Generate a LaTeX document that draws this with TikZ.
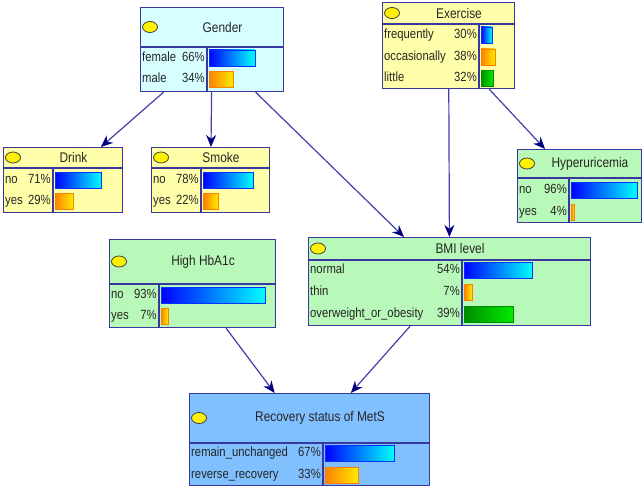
\documentclass[tikz,border=0pt]{standalone}
\usepackage{fontspec}
\setmainfont{Liberation Sans}
\newfontfamily\narrowfont{Liberation Sans}[FakeStretch=0.85]
\usepackage{tikz}
\usetikzlibrary{shapes,arrows.meta}

\definecolor{netline}{RGB}{56,56,160}
\definecolor{linkline}{RGB}{64,64,168}
\definecolor{linkhead}{RGB}{0,0,128}
\definecolor{bgyellow}{RGB}{255,255,170}
\definecolor{bgcyan}{RGB}{216,255,255}
\definecolor{bggreen}{RGB}{184,248,184}
\definecolor{bgblue}{RGB}{128,192,255}
\definecolor{orangeL}{RGB}{255,128,0}
\definecolor{orangeR}{RGB}{255,235,0}
\definecolor{greenL}{RGB}{0,140,0}
\definecolor{greenR}{RGB}{0,235,0}

\tikzstyle{netbox}=[rectangle, draw=netline, line width=1.2pt, inner sep=0pt, anchor=north west]
\tikzstyle{knob}=[draw=black!75, fill=yellow, line width=0.8pt]
\tikzstyle{nodetitle}=[font=\narrowfont\fontsize{14}{16}\selectfont, inner sep=0pt, text=black!85]
\tikzstyle{state}=[font=\narrowfont\fontsize{13.3}{15}\selectfont, inner sep=0pt, text height=9.5pt, text depth=3pt, text=black!85]
\tikzstyle{barb}=[draw=blue!80!cyan, line width=0.8pt, left color=blue, right color=cyan]
\tikzstyle{baro}=[draw=orangeL, line width=0.8pt, left color=orangeL, right color=orangeR]
\tikzstyle{barg}=[draw=greenL, line width=0.8pt, left color=greenL, right color=greenR]
\tikzstyle{link}=[draw=linkline, line width=1.2pt, -{Stealth[length=12pt,width=10pt,color=linkhead]}]

% box: name, fill, x1, y1, x2, y2, header line, title, divider
\newcommand{\netnode}[9]{%
  \node[netbox, fill=#2, minimum width=#5-#3, minimum height=#6-#4] (#1) at (#3,#4) {};
  \draw[netline, line width=1.2pt] (#3,#7) -- (#5,#7) (#9,#7) -- (#9,#6);
  \draw[knob] (#3+10,{(#4+#7)/2}) ellipse (7.5pt and 5.5pt);
  \node[nodetitle] (#1-name) at ({(#3+22+#5)/2},{(#4+#7)/2}) {#8};
}
% row: node, id, y, x1, divider, label, percent, bar style, bar end
\newcommand{\netrow}[9]{%
  \node[state, anchor=west] (#1-#2) at (#4+2,#3) {#6};
  \node[state, anchor=east] (#1-#2p) at (#5-2,#3) {#7\%};
  \draw[#8] (#5+2,#3-8) rectangle (#9,#3+8);
}

\begin{document}
\begin{tikzpicture}[x=1pt, y=-1pt]
\useasboundingbox (0,0) rectangle (644,489);

\netnode{gender}{bgcyan}{140}{7}{283}{91}{47}{Gender}{207}
\netrow{gender}{a}{58}{140}{207}{female}{66}{barb}{255}
\netrow{gender}{b}{79.5}{140}{207}{male}{34}{baro}{233}

\netnode{exercise}{bgyellow}{382}{2}{514}{88}{24}{Exercise}{479}
\netrow{exercise}{a}{35}{382}{479}{frequently}{30}{barb}{492}
\netrow{exercise}{b}{57}{382}{479}{occasionally}{38}{baro}{495}
\netrow{exercise}{c}{78.5}{382}{479}{little}{32}{barg}{493}

\netnode{drink}{bgyellow}{3}{147}{122}{212}{168}{Drink}{53}
\netrow{drink}{a}{180}{3}{53}{no}{71}{barb}{101}
\netrow{drink}{b}{201.5}{3}{53}{yes}{29}{baro}{73}

\netnode{smoke}{bgyellow}{151}{147}{269}{212}{168}{Smoke}{201}
\netrow{smoke}{a}{180}{151}{201}{no}{78}{barb}{253}
\netrow{smoke}{b}{201.5}{151}{201}{yes}{22}{baro}{218}

\netnode{hyper}{bggreen}{517}{149}{641}{222}{178}{Hyperuricemia}{569}
\netrow{hyper}{a}{190}{517}{569}{no}{96}{barb}{637}
\netrow{hyper}{b}{212.5}{517}{569}{yes}{4}{baro}{574}

\netnode{hba}{bggreen}{109}{239}{275}{327}{284}{High HbA1c}{159}
\netrow{hba}{a}{295}{109}{159}{no}{93}{barb}{265}
\netrow{hba}{b}{316.5}{109}{159}{yes}{7}{baro}{168}

\netnode{bmi}{bggreen}{308}{237}{590}{325}{260}{BMI level}{462}
\netrow{bmi}{a}{270.5}{308}{462}{normal}{54}{barb}{532}
\netrow{bmi}{b}{292.5}{308}{462}{thin}{7}{baro}{472}
\netrow{bmi}{c}{314.5}{308}{462}{overweight\_or\_obesity}{39}{barg}{513}

\netnode{recov}{bgblue}{189}{393}{429}{485}{443}{Recovery status of MetS}{323}
\netrow{recov}{a}{453.5}{189}{323}{remain\_unchanged}{67}{barb}{394}
\netrow{recov}{b}{475}{189}{323}{reverse\_recovery}{33}{baro}{358}

\draw[link] (gender) -- (drink);
\draw[link] (gender) -- (smoke);
\draw[link] (gender) -- (bmi);
\draw[link] (exercise) -- (bmi);
\draw[link] (exercise) -- (hyper);
\draw[link] (hba) -- (recov);
\draw[link] (bmi) -- (recov);
\end{tikzpicture}
\end{document}
